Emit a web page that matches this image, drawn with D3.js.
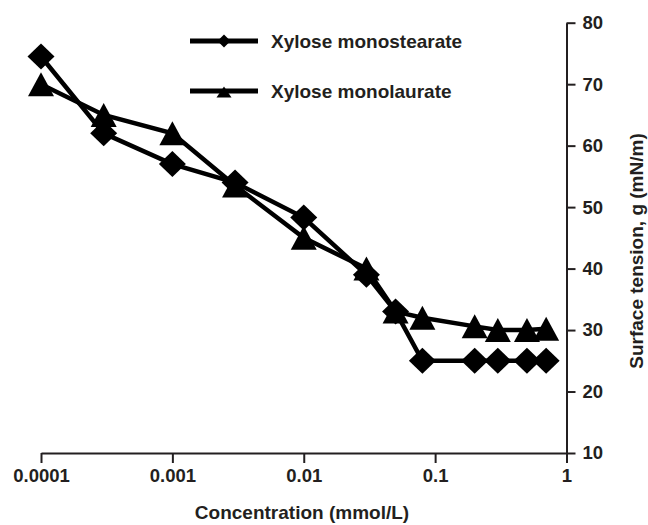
<!DOCTYPE html>
<html>
<head>
<meta charset="utf-8">
<script src="https://cdn.jsdelivr.net/npm/d3@7"></script>
<style>
  body { margin: 0; background: #fff; }
  text { font-family: "Liberation Sans", Arial, sans-serif; font-weight: bold; fill: #231f20; }
</style>
</head>
<body>
<script>
// concentrations (mmol/L) and surface tension values
var conc = [0.0001, 0.0003, 0.001, 0.003, 0.01, 0.03, 0.05, 0.08, 0.2, 0.3, 0.5, 0.7];
var stearate = [74.5, 62, 57, 54, 48.3, 39, 33, 25, 25, 25, 25, 25];
var laurate = [70, 65, 62, 53.5, 45, 40, 33, 32, 30.6, 30, 30, 30.2];
var xTicks = [0.0001, 0.001, 0.01, 0.1, 1];
var xTickLabels = ["0.0001", "0.001", "0.01", "0.1", "1"];
var yTicks = [10, 20, 30, 40, 50, 60, 70, 80];
var seriesNames = ["Xylose monostearate", "Xylose monolaurate"];

var width = 648, height = 525;

var svg = d3.select("body")
    .append("svg")
    .attr("width", width)
    .attr("height", height);

var x = d3.scaleLog()
    .domain([0.0001, 1])
    .range([41, 566.5]);

var y = d3.scaleLinear()
    .domain([10, 80])
    .range([453, 22.7]);

// x axis (ticks point down)
var xAxis = d3.axisBottom(x)
    .tickValues(xTicks)
    .tickFormat(function(d, i){ return xTickLabels[i]; })
    .tickSize(10)
    .tickSizeOuter(0)
    .tickPadding(6);

var gx = svg.append("g")
    .attr("transform", "translate(0," + y(10) + ")")
    .call(xAxis);
gx.select(".domain").attr("stroke", "#231f20").attr("stroke-width", 2);
gx.selectAll(".tick line").attr("stroke", "#231f20").attr("stroke-width", 2);
gx.selectAll(".tick text").attr("font-size", 18.5).attr("fill", "#231f20")
    .style("font-family", "'Liberation Sans', Arial, sans-serif").style("font-weight", "bold");

// y axis on the right (ticks point right)
var yAxis = d3.axisRight(y)
    .tickValues(yTicks)
    .tickSize(9)
    .tickSizeOuter(0)
    .tickPadding(7);

var gy = svg.append("g")
    .attr("transform", "translate(" + x(1) + ",0)")
    .call(yAxis);
gy.select(".domain").attr("stroke", "#231f20").attr("stroke-width", 2);
gy.selectAll(".tick line").attr("stroke", "#231f20").attr("stroke-width", 2);
gy.selectAll(".tick text").attr("font-size", 18.5).attr("fill", "#231f20")
    .style("font-family", "'Liberation Sans', Arial, sans-serif").style("font-weight", "bold");

// axis titles
svg.append("text")
    .attr("x", 302)
    .attr("y", 519)
    .attr("text-anchor", "middle")
    .attr("font-size", 19)
    .text("Concentration (mmol/L)");

svg.append("text")
    .attr("transform", "translate(643,251) rotate(-90)")
    .attr("text-anchor", "middle")
    .attr("font-size", 19)
    .text("Surface tension, g (mN/m)");

// marker shapes
function diamond(cx, cy, w, h){
    return "M" + (cx - w) + "," + cy + "L" + cx + "," + (cy - h) +
        "L" + (cx + w) + "," + cy + "L" + cx + "," + (cy + h) + "Z";
}
function triangle(cx, cy, w, h){
    return "M" + (cx - w) + "," + (cy + h / 2) + "L" + cx + "," + (cy - h / 2) +
        "L" + (cx + w) + "," + (cy + h / 2) + "Z";
}

var line = d3.line()
    .x(function(d){ return x(d[0]); })
    .y(function(d){ return y(d[1]); });

var stData = conc.map(function(c, i){ return [c, stearate[i]]; });
var laData = conc.map(function(c, i){ return [c, laurate[i]]; });

// lines
svg.append("path")
    .datum(laData)
    .attr("d", line)
    .attr("fill", "none")
    .attr("stroke", "#000")
    .attr("stroke-width", 4.5);

svg.append("path")
    .datum(stData)
    .attr("d", line)
    .attr("fill", "none")
    .attr("stroke", "#000")
    .attr("stroke-width", 4.5);

// markers
svg.selectAll(".tri")
    .data(laData)
    .enter()
    .append("path")
    .attr("class", "tri")
    .attr("d", function(d){ return triangle(x(d[0]), y(d[1]), 13, 24); })
    .attr("fill", "#000");

svg.selectAll(".dia")
    .data(stData)
    .enter()
    .append("path")
    .attr("class", "dia")
    .attr("d", function(d){ return diamond(x(d[0]), y(d[1]), 13.5, 13); })
    .attr("fill", "#000");

// legend
var legY = [41, 91];
seriesNames.forEach(function(name, i){
    svg.append("line")
        .attr("x1", 190).attr("x2", 258)
        .attr("y1", legY[i]).attr("y2", legY[i])
        .attr("stroke", "#000")
        .attr("stroke-width", 5);
    svg.append("path")
        .attr("d", i === 0 ? diamond(224, legY[i], 6.5, 6.5) : triangle(224, legY[i] + 1, 7.5, 11))
        .attr("fill", "#000");
    svg.append("text")
        .attr("x", 271)
        .attr("y", legY[i] + 7)
        .attr("font-size", 19)
        .text(name);
});
</script>
</body>
</html>
